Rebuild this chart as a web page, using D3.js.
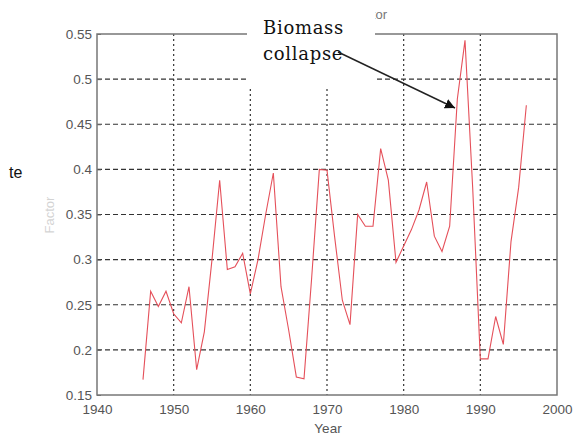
<!DOCTYPE html>
<html>
<head>
<meta charset="utf-8">
<script src="https://cdn.jsdelivr.net/npm/d3@7"></script>
<style>
  body { margin: 0; background: #fff; }
  svg { display: block; }
</style>
</head>
<body>
<svg id="chart" width="575" height="438"></svg>
<script>
const years = [1946, 1947, 1948, 1949, 1950, 1951, 1952, 1953, 1954, 1955,
  1956, 1957, 1958, 1959, 1960, 1961, 1962, 1963, 1964, 1965,
  1966, 1967, 1968, 1969, 1970, 1971, 1972, 1973, 1974, 1975,
  1976, 1977, 1978, 1979, 1980, 1981, 1982, 1983, 1984, 1985,
  1986, 1987, 1988, 1989, 1990, 1991, 1992, 1993, 1994, 1995, 1996];
const factor = [0.167, 0.265, 0.248, 0.265, 0.240, 0.230, 0.270, 0.178, 0.220, 0.300,
  0.388, 0.289, 0.292, 0.307, 0.262, 0.300, 0.350, 0.396, 0.270, 0.222,
  0.170, 0.168, 0.280, 0.400, 0.399, 0.325, 0.255, 0.228, 0.350, 0.337,
  0.337, 0.423, 0.388, 0.297, 0.315, 0.333, 0.355, 0.386, 0.326, 0.309,
  0.337, 0.478, 0.543, 0.380, 0.190, 0.190, 0.237, 0.206, 0.320, 0.380, 0.471];
const xTicks = [1940, 1950, 1960, 1970, 1980, 1990, 2000];
const yTicks = [0.15, 0.2, 0.25, 0.3, 0.35, 0.4, 0.45, 0.5, 0.55];

const svg = d3.select("#chart");
const mLeft = 97, mRight = 557, mTop = 34, mBottom = 395;

const x = d3.scaleLinear().domain([1940, 2000]).range([mLeft, mRight]);
const y = d3.scaleLinear().domain([0.15, 0.55]).range([mBottom, mTop]);

// grid
svg.append("g").selectAll("line").data(yTicks.slice(1, -1)).join("line")
  .attr("x1", mLeft).attr("x2", mRight)
  .attr("y1", d => y(d)).attr("y2", d => y(d))
  .attr("stroke", "#333").attr("stroke-width", 1.2)
  .attr("stroke-dasharray", "5,3");
svg.append("g").selectAll("line").data(xTicks.slice(1, -1)).join("line")
  .attr("x1", d => x(d)).attr("x2", d => x(d))
  .attr("y1", mTop).attr("y2", mBottom)
  .attr("stroke", "#333").attr("stroke-width", 1.2)
  .attr("stroke-dasharray", "2,3");

// axes
const xAxis = svg.append("g").attr("transform", `translate(0,${mBottom})`)
  .call(d3.axisBottom(x).tickValues(xTicks).tickFormat(d3.format("d")).tickSize(0).tickPadding(9));
const yAxis = svg.append("g").attr("transform", `translate(${mLeft},0)`)
  .call(d3.axisLeft(y).tickValues(yTicks).tickFormat(d => String(+d.toFixed(2))).tickSize(4).tickPadding(1));
yAxis.selectAll(".tick line").attr("x2", 4).attr("stroke", "#666");
[xAxis, yAxis].forEach(a => {
  a.select(".domain").remove();
  a.selectAll("text").attr("fill", "#555").style("font-family", "Liberation Sans, Arial, sans-serif").style("font-size", "13.5px");
});

// box
svg.append("rect")
  .attr("x", mLeft).attr("y", mTop).attr("width", mRight - mLeft).attr("height", mBottom - mTop)
  .attr("fill", "none").attr("stroke", "#777").attr("stroke-width", 1.5);

// data line
const line = d3.line().x((d, i) => x(years[i])).y(d => y(d));
svg.append("path").datum(factor)
  .attr("d", line)
  .attr("fill", "none").attr("stroke", "#e5505a").attr("stroke-width", 1.1);

// labels
svg.append("text").attr("x", 328).attr("y", 433).attr("text-anchor", "middle")
  .attr("fill", "#555").style("font-family", "Liberation Sans, Arial, sans-serif").style("font-size", "13.5px")
  .text("Year");
svg.append("text").attr("transform", "translate(54,215) rotate(-90)").attr("text-anchor", "middle")
  .attr("fill", "#555").attr("opacity", 0.25)
  .style("font-family", "Liberation Sans, Arial, sans-serif").style("font-size", "13px")
  .text("Factor");
svg.append("text").attr("x", 387).attr("y", 19).attr("text-anchor", "end")
  .attr("fill", "#777").style("font-family", "Liberation Sans, Arial, sans-serif").style("font-size", "13px")
  .text("Factor");

// annotation box covering top
svg.append("rect").attr("x", 247).attr("y", 0).attr("width", 128).attr("height", 87).attr("fill", "#fff");
const ann = svg.append("text").style("font-family", "DejaVu Serif, serif").style("font-size", "18px")
  .style("letter-spacing", "0.7px").attr("fill", "#111");
ann.append("tspan").attr("x", 263).attr("y", 34).text("Biomass");
ann.append("tspan").attr("x", 263).attr("y", 60).text("collapse");

svg.append("defs").append("marker")
  .attr("id", "arr").attr("viewBox", "0 0 10 10").attr("refX", 10).attr("refY", 5)
  .attr("markerWidth", 10).attr("markerHeight", 10).attr("markerUnits", "userSpaceOnUse").attr("orient", "auto")
  .append("path").attr("d", "M0,0 L10,5 L0,10 Z").attr("fill", "#111");
svg.append("line").attr("x1", 338).attr("y1", 52).attr("x2", 455).attr("y2", 108)
  .attr("stroke", "#222").attr("stroke-width", 1.4).attr("marker-end", "url(#arr)");

svg.append("text").attr("x", 9).attr("y", 178)
  .style("font-family", "Liberation Sans, Arial, sans-serif").style("font-size", "16px").attr("fill", "#111")
  .text("te");
</script>
</body>
</html>
